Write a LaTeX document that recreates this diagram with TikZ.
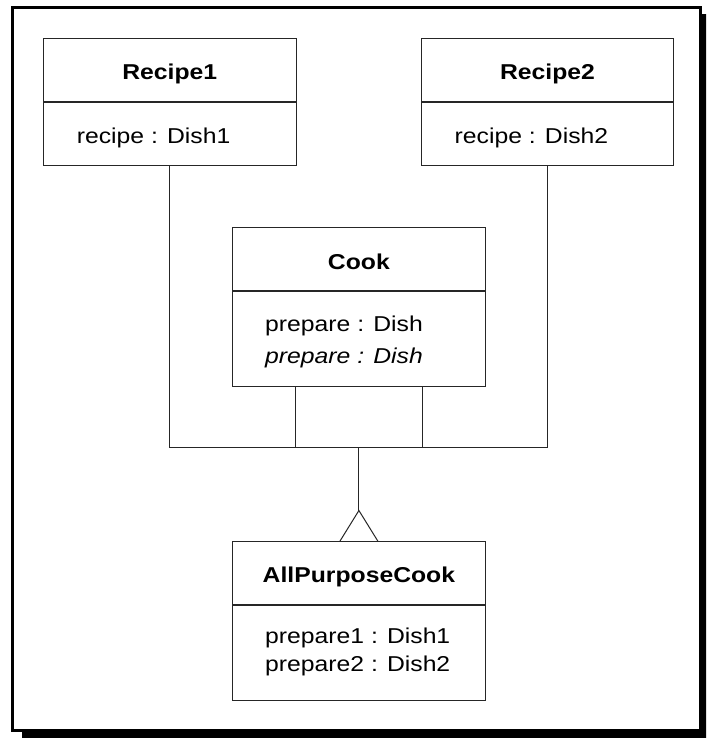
\documentclass[tikz,border=0pt]{standalone}
\usepackage{fontspec}
\setmainfont[FakeStretch=1.15]{Liberation Sans}
\usetikzlibrary{calc}

\newcommand{\umlsize}{\fontsize{21.5}{26}\selectfont}

\tikzset{
  compartment/.style={draw=black!85, line width=1pt, fill=white, inner sep=0pt,
    minimum width=252.6pt},
  classname/.style={inner sep=0pt, anchor=base, font=\umlsize\bfseries},
  member/.style={inner sep=0pt, anchor=base west, font=\umlsize},
  wire/.style={draw=black!85, line width=1pt},
}

\begin{document}
\begin{tikzpicture}[x=1pt, y=-1pt]
  \useasboundingbox (0,0) rectangle (706,738);
  \clip (0,0) rectangle (706,738);

  % page frame with drop shadow
  \fill[black] (22,14) rectangle (716,748);
  \draw[line width=3pt, fill=white] (12.5,7.5) rectangle (700.5,730.5);

  % Recipe1
  \node[compartment, minimum height=62.7pt] (r1t) at (169.7,69.7) {};
  \node[compartment, minimum height=63.3pt, anchor=north] (r1a) at (r1t.south) {};
  \node[classname] (r1n) at (169.7,80) {Recipe1};
  \node[member] (r1m) at (76.7,144) {recipe : Dish1};

  % Recipe2
  \node[compartment, minimum height=62.7pt] (r2t) at (547.5,69.7) {};
  \node[compartment, minimum height=63.3pt, anchor=north] (r2a) at (r2t.south) {};
  \node[classname] (r2n) at (547.5,80) {Recipe2};
  \node[member] (r2m) at (454.5,144) {recipe : Dish2};

  % Cook
  \node[compartment, minimum height=63.4pt] (ckt) at (358.9,259) {};
  \node[compartment, minimum height=94.3pt, anchor=north] (cka) at (ckt.south) {};
  \node[classname] (ckn) at (358.9,269.3) {Cook};
  \node[member] (ckm1) at (265,331.7) {prepare : Dish};
  \node[member] (ckm2) at (265,363.3) {\itshape prepare : Dish};

  % AllPurposeCook
  \node[compartment, minimum height=62.6pt] (apt) at (358.9,573) {};
  \node[compartment, minimum height=95pt, anchor=north] (apa) at (apt.south) {};
  \node[classname] (apn) at (358.9,582.7) {AllPurposeCook};
  \node[member] (apm1) at (265,643.3) {prepare1 : Dish1};
  \node[member] (apm2) at (265,671.7) {prepare2 : Dish2};

  % generalization tree
  \coordinate (junction) at (358.9,447.7);
  \coordinate (apex) at ($(apt.north)+(0,-30.7)$);
  \coordinate (ckl) at ($(cka.south west)!0.25!(cka.south east)$);
  \coordinate (ckr) at ($(cka.south west)!0.75!(cka.south east)$);
  \draw[wire] (r1a.south) |- (junction) -| (r2a.south);
  \draw[wire] (ckl) -- (ckl |- junction);
  \draw[wire] (ckr) -- (ckr |- junction);
  \draw[wire] (junction) -- (apex);
  % open triangle of the generalization, base on the subclass
  \draw[wire, line join=miter]
    ($(apt.north)+(-19,0)$) -- (apex) -- ($(apt.north)+(19,0)$);
\end{tikzpicture}
\end{document}
